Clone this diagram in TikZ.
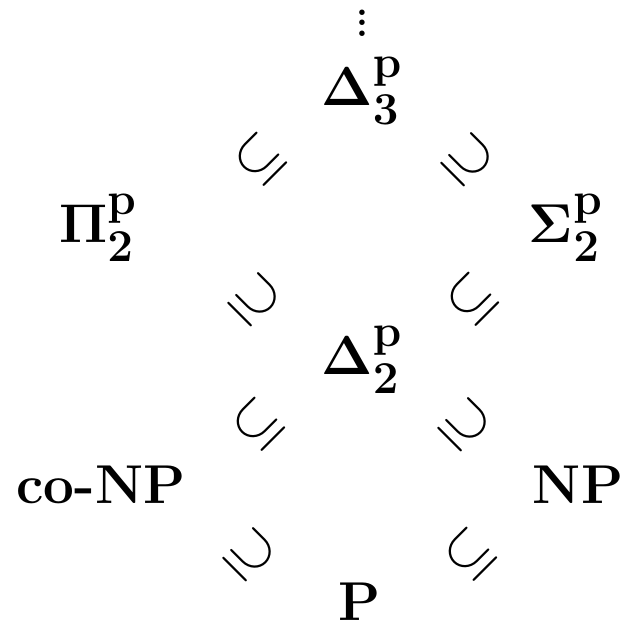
\documentclass[tikz,border=0pt]{standalone}
\usepackage{amsmath,amssymb}
\begin{document}
\begin{tikzpicture}[x=1pt,y=-1pt,
  cls/.style={inner sep=0pt,font=\Huge,scale=2.2},
  rel/.style={inner sep=0pt,font=\Huge,scale=2.3}]
\useasboundingbox (0,0) rectangle (629,629);
\node[inner sep=0pt,font=\LARGE\bfseries,scale=2.2] (dots) at (362,23)
  {\vbox{\baselineskip=4.7pt\lineskiplimit=0pt\hbox{.}\hbox{.}\hbox{.}}};
\node[cls] (D3) at (362,91) {$\mathbf{\Delta}^{\mathbf{p}}_{\mathbf{3}}$};
\node[cls] (P2) at (98,228) {$\mathbf{\Pi}^{\mathbf{p}}_{\mathbf{2}}$};
\node[cls] (S2) at (566,228) {$\mathbf{\Sigma}^{\mathbf{p}}_{\mathbf{2}}$};
\node[cls] (D2) at (362,360) {$\mathbf{\Delta}^{\mathbf{p}}_{\mathbf{2}}$};
\node[cls] (coNP) at (101,485) {\textbf{co-NP}};
\node[cls] (NP) at (578,485) {\textbf{NP}};
\node[cls] (P) at (360,602) {\textbf{P}};
\node[rel,rotate=45] (r1) at (260,160) {$\subseteq$};
\node[rel,rotate=-45] (r2) at (468,160) {$\supseteq$};
\node[rel,rotate=-45] (r3) at (255,300) {$\supseteq$};
\node[rel,rotate=45] (r4) at (472,300) {$\subseteq$};
\node[rel,rotate=45] (r5) at (258,425) {$\subseteq$};
\node[rel,rotate=-45] (r6) at (465,425) {$\supseteq$};
\node[rel,rotate=-45] (r7) at (250,555) {$\supseteq$};
\node[rel,rotate=45] (r8) at (470,555) {$\subseteq$};
\end{tikzpicture}
\end{document}
